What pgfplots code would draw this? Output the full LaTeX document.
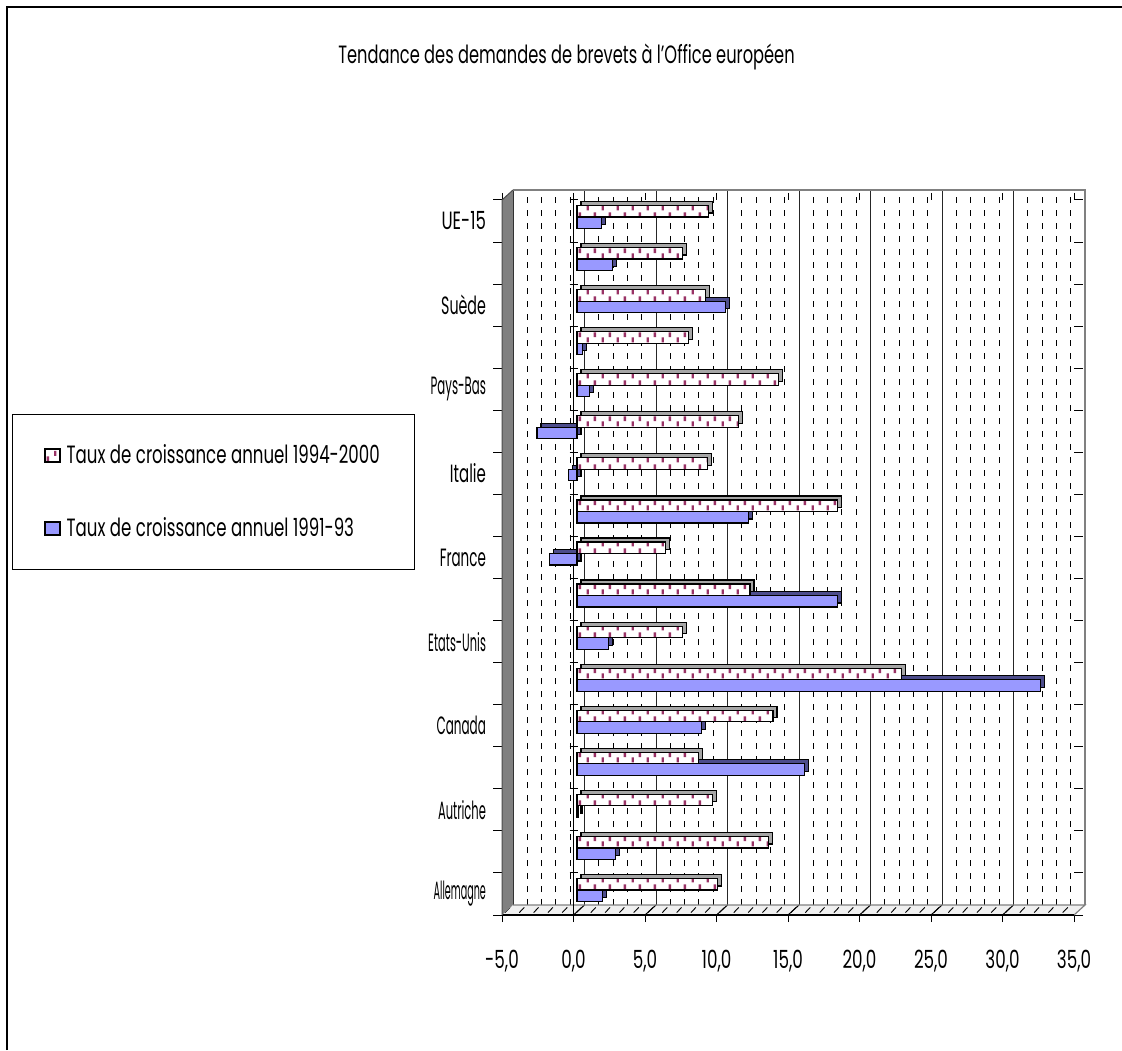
\documentclass[border=0pt]{standalone}
\usepackage{fontspec}
\setmainfont{Poppins}
\usepackage{graphicx}
\usepackage{pgfplots}
\usepackage{pgfplotstable}
\pgfplotsset{compat=1.18}
\usetikzlibrary{patterns.meta}

\definecolor{barblue}{HTML}{9999FF}
\definecolor{blueside}{HTML}{4D4D8C}
\definecolor{patdash}{HTML}{993366}
\definecolor{patside}{HTML}{A6A6A6}
\definecolor{wallgray}{HTML}{808080}

\newcommand\fsz{\fontsize{12.5pt}{13pt}\selectfont}
\newcommand\cw[1]{\scalebox{0.65}[1]{#1}}% title
\newcommand\cg[1]{\scalebox{0.665}[1]{#1}}% legend
\newcommand\cl[2]{\scalebox{#1}[1]{#2}}% category labels
\newcommand\cx[1]{\scalebox{0.67}[1]{#1}}% numbers

\tikzdeclarepattern{
  name=vdash,
  type=uncolored,
  bounding box={(0pt,0pt) and (7.5pt,6pt)},
  tile size={(7.5pt,6pt)},
  code={
    \draw[line width=1.2pt] (1.5pt,0.4pt) -- (1.5pt,3.0pt);
    \draw[line width=1.2pt] (5.25pt,3.2pt) -- (5.25pt,5.8pt);
  }
}

% rows from bottom: a = 1994-2000, b = 1991-93
\pgfplotstableread{
r a b
1 9.8 1.8
2 13.4 2.7
3 9.5 0.1
4 8.5 15.9
5 13.7 8.7
6 22.7 32.4
7 7.4 2.2
8 12.1 18.2
9 6.2 -1.9
10 18.2 12.0
11 9.1 -0.6
12 11.3 -2.8
13 14.1 0.9
14 7.8 0.4
15 9.0 10.4
16 7.4 2.5
17 9.2 1.7
}\data

\pgfplotsset{
  common/.style={
    anchor=south west, scale only axis,
    width=286pt, height=357.5pt,
    xmin=-5, xmax=35, ymin=0.5, ymax=17.5,
    clip=false,
  },
  sqlegend/.style={legend image code/.code={\draw[##1, line width=0.6pt] (0pt,-3.25pt) rectangle (7.5pt,3.25pt);}},
}

\begin{document}
\begin{tikzpicture}
\useasboundingbox (0pt,0pt) rectangle (561pt,525pt);
\draw[line width=1pt] (3.5pt,0pt) -- (3.5pt,521.5pt) -- (561pt,521.5pt);
\node[font=\fsz] at (283.25pt,496.5pt) {\cw{Tendance des demandes de brevets à l'Office européen}};

% back plane with grid
\begin{axis}[common, at={(256.5pt,72.5pt)},
  axis line style={draw=none},
  xtick={-5,0,...,35}, minor x tick num=4, ytick=\empty,
  xticklabels={}, tick style={draw=none},
  xmajorgrids, xminorgrids,
  major grid style={black!85, line width=0.5pt},
  minor grid style={black, line width=0.5pt, dash pattern=on 3pt off 3.5pt},
]
\draw[gray, line width=0.75pt] (rel axis cs:0,1) -- (rel axis cs:1,1) -- (rel axis cs:1,0);
\end{axis}

% front: wall, floor, ticks, labels
\begin{axis}[common, at={(251pt,67.5pt)},
  axis line style={draw=none},
  xtick={-5,0,...,35},
  xticklabel={\cx{\pgfmathprintnumber[fixed,fixed zerofill,precision=1,use comma,assume math mode=true]{\tick}}},
  ytick={1,...,17},
  yticklabels={\cl{0.385}{Allemagne},,\cl{0.46}{Autriche},,\cl{0.48}{Canada},,\cl{0.455}{Etats-Unis},,\cl{0.54}{France},,\cl{0.6}{Italie},,\cl{0.47}{Pays-Bas},,\cl{0.57}{Suède},,\cl{0.66}{UE-15}},
  minor ytick={0.5,1.5,...,17.5},
  tick align=outside,
  major tick length=3.5pt, minor tick length=4.5pt,
  major y tick style={draw=none},
  minor y tick style={draw=black, line width=0.5pt},
  major x tick style={draw=black, line width=0.5pt},
  tick label style={font=\fsz},
  xticklabel style={yshift=-10.5pt},
  yticklabel style={xshift=-1pt},
]
% floor
\fill[gray!12] (axis cs:-5,0.5) -- (axis cs:35,0.5) -- ([shift={(5.5pt,5pt)}]axis cs:35,0.5) -- ([shift={(5.5pt,5pt)}]axis cs:-5,0.5) -- cycle;
\pgfplotsinvokeforeach{-5,...,34}{
  \draw[black, line width=0.45pt] ([shift={(1.5pt,1.2pt)}]axis cs:#1,0.5) -- ([shift={(4pt,3.8pt)}]axis cs:#1,0.5);
}
\pgfplotsinvokeforeach{0,5,...,30}{
  \draw[black, line width=0.5pt] (axis cs:#1,0.5) -- ([shift={(5.5pt,5pt)}]axis cs:#1,0.5);
}
\draw[gray, line width=0.6pt] ([shift={(5.5pt,5pt)}]axis cs:-5,0.5) -- ([shift={(5.5pt,5pt)}]axis cs:35,0.5) -- (axis cs:35,0.5);
\draw[black, line width=0.6pt] (axis cs:-5,0.5) -- (axis cs:35,0.5);
% wall
\fill[wallgray] (axis cs:-5,0.5) -- (axis cs:-5,17.5) -- ([shift={(5.5pt,5pt)}]axis cs:-5,17.5) -- ([shift={(5.5pt,5pt)}]axis cs:-5,0.5) -- cycle;
\draw[black!70, line width=0.5pt] (axis cs:-5,0.5) -- (axis cs:-5,17.5) -- ([shift={(5.5pt,5pt)}]axis cs:-5,17.5);
% category axis at 0
\draw[black, line width=0.6pt] (axis cs:0,0.5) -- (axis cs:0,17.5);
\pgfplotsinvokeforeach{1.5,2.5,...,17.5}{
  \draw[black, line width=0.5pt] ([xshift=-2pt]axis cs:0,#1) -- ([xshift=2pt]axis cs:0,#1);
}
\end{axis}

% bar depth faces
\begin{axis}[common, at={(254.75pt,71.5pt)}, hide axis, xbar, bar width=5.75pt]
\addplot[xbar, fill=blueside, draw=black, line width=0.6pt, bar shift=-2.875pt] table[x=b, y=r]{\data};
\addplot[xbar, fill=patside, draw=black, line width=0.6pt, bar shift=2.875pt] table[x=a, y=r]{\data};
\end{axis}

% bar front faces
\begin{axis}[common, at={(252.75pt,69.5pt)}, hide axis, xbar, bar width=5.75pt,
  legend cell align=left,
  legend style={at={(-0.8628,0.6951)}, anchor=north west, draw=black, line width=0.5pt,
    fill=white, inner xsep=16pt, inner ysep=13.5pt, row sep=22.5pt, font=\fsz,
    nodes={inner sep=1.5pt},
    /tikz/every odd column/.append style={column sep=1.5pt}},
]
\addplot[xbar, fill=white, draw=black, line width=0.6pt, bar shift=2.875pt,
  postaction={pattern=vdash, pattern color=patdash}, sqlegend]
  table[x=a, y=r]{\data};
\addlegendentry{\cg{Taux de croissance annuel 1994-2000}}
\addplot[xbar, fill=barblue, draw=black, line width=0.6pt, bar shift=-2.875pt, sqlegend]
  table[x=b, y=r]{\data};
\addlegendentry{\cg{Taux de croissance annuel 1991-93}}
\end{axis}
\end{tikzpicture}
\end{document}
